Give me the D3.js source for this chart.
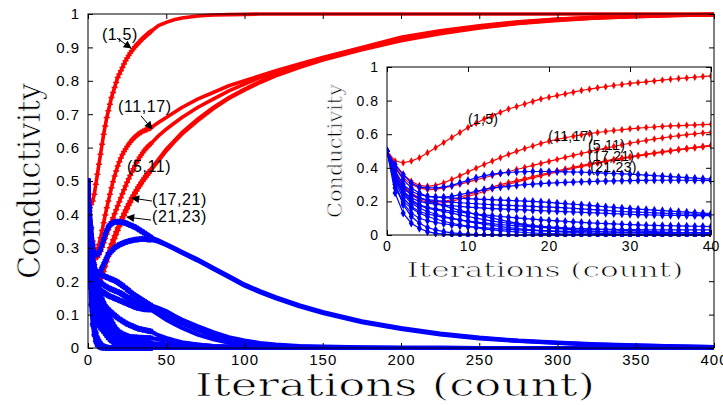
<!DOCTYPE html>
<html>
<head>
<meta charset="utf-8">
<title>Conductivity</title>
<script src="https://cdn.jsdelivr.net/npm/d3@7"></script>
<style>
body { margin: 0; background: #fff; }
.tick text { font-family: "Liberation Sans", Arial, sans-serif; fill: #000; }
.tick line { stroke: #000; }
.lbl { font-family: "Liberation Sans", Arial, sans-serif; fill: #000; }
.title { font-family: "DejaVu Serif", "Liberation Serif", serif; fill: #000; stroke: #fff; stroke-width: 0.7px; }
</style>
</head>
<body>
<svg id="chart" width="723" height="405"></svg>
<script>
// iterations where values were read (every step up to 40, then sparser)
var iters = [0,1,2,3,4,5,6,7,8,9,10,11,12,13,14,15,16,17,18,19,20,21,22,23,24,25,26,27,28,29,30,31,32,33,34,35,36,37,38,39,40,
  45,50,55,60,70,80,90,100,110,120,135,150,175,200,225,250,275,300,325,350,375,400];

// red: edges on the chosen path
var r15 = [0.5,0.44,0.43,0.44,0.46,0.49,0.52,0.55,0.58,0.61,0.64,0.665,0.69,0.71,0.73,0.75,0.765,0.78,0.795,0.81,0.82,0.83,0.84,0.85,0.86,0.868,0.876,0.883,0.89,0.896,0.902,0.907,0.912,0.917,0.922,0.927,0.931,0.935,0.939,0.943,0.947,
  0.965,0.975,0.983,0.988,0.994,0.997,0.998,0.999,1,1,1,1,1,1,1,1,1,1,1,1,1,1];
var r1117 = [0.5,0.42,0.36,0.32,0.295,0.29,0.295,0.31,0.33,0.352,0.375,0.398,0.42,0.44,0.46,0.48,0.498,0.515,0.53,0.545,0.558,0.569,0.579,0.588,0.596,0.603,0.61,0.616,0.622,0.627,0.632,0.636,0.64,0.643,0.646,0.649,0.651,0.653,0.655,0.657,0.659,
  0.675,0.69,0.705,0.72,0.745,0.765,0.785,0.8,0.815,0.83,0.85,0.87,0.9,0.93,0.95,0.965,0.977,0.985,0.99,0.994,0.997,0.998];
var r511 = [0.5,0.41,0.34,0.3,0.28,0.27,0.272,0.28,0.29,0.302,0.315,0.328,0.341,0.354,0.366,0.378,0.39,0.402,0.414,0.426,0.438,0.45,0.462,0.474,0.485,0.496,0.507,0.517,0.527,0.537,0.546,0.555,0.563,0.571,0.578,0.585,0.591,0.597,0.602,0.607,0.611,
  0.635,0.655,0.673,0.69,0.72,0.745,0.77,0.79,0.81,0.826,0.848,0.868,0.898,0.925,0.945,0.962,0.975,0.984,0.99,0.994,0.997,0.998];
var r1721 = [0.5,0.38,0.3,0.25,0.22,0.205,0.2,0.2,0.21,0.225,0.24,0.255,0.27,0.285,0.3,0.312,0.324,0.336,0.348,0.36,0.371,0.382,0.393,0.403,0.413,0.423,0.432,0.441,0.45,0.458,0.466,0.474,0.482,0.489,0.496,0.503,0.51,0.516,0.522,0.528,0.534,
  0.565,0.595,0.62,0.645,0.685,0.72,0.75,0.775,0.798,0.818,0.843,0.865,0.895,0.922,0.943,0.96,0.973,0.982,0.988,0.993,0.996,0.998];
var r2123 = [0.5,0.37,0.29,0.24,0.21,0.195,0.19,0.192,0.2,0.214,0.229,0.244,0.259,0.274,0.289,0.302,0.315,0.328,0.34,0.352,0.364,0.375,0.386,0.397,0.407,0.417,0.427,0.436,0.445,0.454,0.462,0.47,0.478,0.485,0.492,0.499,0.506,0.512,0.518,0.524,0.53,
  0.56,0.59,0.616,0.64,0.68,0.716,0.747,0.772,0.795,0.815,0.84,0.862,0.893,0.92,0.941,0.958,0.972,0.981,0.988,0.992,0.996,0.998];

// blue: the other edges
var b01 = [0.5,0.42,0.36,0.31,0.285,0.28,0.28,0.285,0.295,0.31,0.325,0.34,0.352,0.362,0.368,0.372,0.375,0.377,0.378,0.378,0.378,0.377,0.376,0.375,0.374,0.372,0.37,0.368,0.366,0.364,0.362,0.359,0.356,0.353,0.35,0.347,0.344,0.341,0.338,0.335,0.332,
  0.322,0.311,0.3,0.288,0.265,0.24,0.215,0.19,0.17,0.152,0.128,0.108,0.08,0.06,0.043,0.031,0.022,0.016,0.011,0.008,0.005,0.003];
var b02 = [0.5,0.4,0.33,0.28,0.25,0.23,0.225,0.225,0.23,0.24,0.25,0.26,0.27,0.28,0.285,0.29,0.295,0.3,0.303,0.306,0.309,0.311,0.313,0.315,0.317,0.318,0.32,0.321,0.322,0.323,0.324,0.325,0.325,0.326,0.326,0.326,0.326,0.326,0.325,0.325,0.324,
  0.318,0.308,0.297,0.285,0.262,0.237,0.212,0.187,0.167,0.149,0.125,0.105,0.077,0.057,0.041,0.029,0.021,0.015,0.01,0.007,0.005,0.003];
var b03 = [0.5,0.38,0.3,0.26,0.24,0.23,0.225,0.222,0.22,0.218,0.216,0.214,0.212,0.21,0.208,0.206,0.204,0.202,0.2,0.197,0.194,0.19,0.187,0.183,0.18,0.176,0.172,0.168,0.164,0.16,0.157,0.154,0.151,0.148,0.145,0.142,0.139,0.136,0.133,0.13,0.128,
  0.12,0.11,0.097,0.085,0.065,0.047,0.032,0.022,0.015,0.01,0.006,0.004,0.002,0.001,0.001,0,0,0,0,0,0,0];
var b04 = [0.5,0.36,0.28,0.24,0.22,0.21,0.205,0.2,0.196,0.192,0.189,0.186,0.183,0.18,0.178,0.176,0.174,0.172,0.17,0.168,0.166,0.164,0.161,0.158,0.155,0.152,0.149,0.146,0.143,0.14,0.138,0.136,0.134,0.132,0.13,0.128,0.126,0.125,0.124,0.123,0.122,
  0.11,0.098,0.085,0.073,0.053,0.037,0.025,0.017,0.011,0.007,0.004,0.002,0.001,0,0,0,0,0,0,0,0,0];
var b05 = [0.5,0.35,0.26,0.22,0.2,0.19,0.183,0.178,0.174,0.17,0.166,0.163,0.16,0.157,0.155,0.153,0.151,0.149,0.147,0.145,0.143,0.141,0.139,0.137,0.135,0.133,0.131,0.129,0.127,0.125,0.123,0.121,0.12,0.119,0.118,0.117,0.116,0.116,0.115,0.115,0.115,
  0.1,0.085,0.072,0.06,0.04,0.026,0.016,0.01,0.006,0.004,0.002,0.001,0,0,0,0,0,0,0,0,0,0];
var b06 = [0.5,0.35,0.26,0.21,0.18,0.165,0.155,0.148,0.142,0.136,0.13,0.125,0.12,0.115,0.11,0.106,0.102,0.098,0.094,0.09,0.087,0.084,0.081,0.078,0.075,0.072,0.07,0.068,0.066,0.064,0.062,0.06,0.058,0.057,0.056,0.055,0.054,0.053,0.052,0.051,0.05,
  0.038,0.03,0.023,0.017,0.01,0.006,0.004,0.002,0.001,0,0,0,0,0,0,0,0,0,0,0,0,0];
var b07 = [0.5,0.32,0.22,0.17,0.14,0.125,0.115,0.105,0.097,0.09,0.083,0.077,0.072,0.067,0.062,0.058,0.054,0.051,0.048,0.045,0.043,0.041,0.039,0.037,0.036,0.035,0.034,0.033,0.033,0.032,0.032,0.032,0.031,0.031,0.031,0.031,0.03,0.03,0.03,0.03,0.03,
  0.026,0.022,0.018,0.015,0.01,0.006,0.004,0.002,0.001,0,0,0,0,0,0,0,0,0,0,0,0,0];
var b08 = [0.5,0.3,0.19,0.13,0.1,0.085,0.075,0.067,0.06,0.055,0.05,0.046,0.042,0.039,0.036,0.033,0.031,0.029,0.027,0.025,0.024,0.023,0.022,0.021,0.02,0.019,0.019,0.018,0.018,0.017,0.017,0.016,0.016,0.016,0.015,0.015,0.015,0.015,0.015,0.015,0.015,
  0.013,0.011,0.009,0.007,0.005,0.003,0.002,0.001,0,0,0,0,0,0,0,0,0,0,0,0,0,0];
var b09 = [0.5,0.3,0.18,0.11,0.07,0.045,0.03,0.02,0.013,0.008,0.005,0.003,0.002,0.001,0,0,0,0,0,0,0,0,0,0,0,0,0,0,0,0,0,0,0,0,0,0,0,0,0,0,0,
  0,0,0,0,0,0,0,0,0,0,0,0,0,0,0,0,0,0,0,0,0,0];
var b10 = [0.5,0.25,0.13,0.07,0.04,0.02,0.01,0.005,0.002,0.001,0,0,0,0,0,0,0,0,0,0,0,0,0,0,0,0,0,0,0,0,0,0,0,0,0,0,0,0,0,0,0,
  0,0,0,0,0,0,0,0,0,0,0,0,0,0,0,0,0,0,0,0,0,0];
var b11 = [0.5,0.28,0.2,0.16,0.13,0.11,0.095,0.082,0.07,0.06,0.052,0.044,0.037,0.031,0.026,0.022,0.018,0.015,0.012,0.01,0.008,0.007,0.006,0.005,0.004,0.003,0.003,0.002,0.002,0.001,0.001,0,0,0,0,0,0,0,0,0,0,
  0,0,0,0,0,0,0,0,0,0,0,0,0,0,0,0,0,0,0,0,0,0];
var b12 = [0.5,0.33,0.24,0.19,0.16,0.14,0.125,0.11,0.1,0.09,0.08,0.072,0.064,0.057,0.05,0.044,0.039,0.034,0.03,0.026,0.023,0.02,0.017,0.015,0.013,0.011,0.009,0.008,0.007,0.006,0.005,0.004,0.004,0.003,0.003,0.002,0.002,0.002,0.001,0.001,0.001,
  0.001,0,0,0,0,0,0,0,0,0,0,0,0,0,0,0,0,0,0,0,0,0];
var b13 = [0.5,0.36,0.28,0.24,0.22,0.205,0.19,0.175,0.16,0.147,0.135,0.123,0.112,0.1,0.09,0.08,0.071,0.063,0.056,0.05,0.044,0.039,0.035,0.031,0.027,0.024,0.021,0.019,0.017,0.015,0.013,0.012,0.011,0.01,0.009,0.008,0.007,0.006,0.006,0.005,0.005,
  0.004,0.003,0.002,0.001,0,0,0,0,0,0,0,0,0,0,0,0,0,0,0,0,0,0];
var b14 = [0.5,0.34,0.25,0.2,0.175,0.16,0.15,0.14,0.13,0.12,0.11,0.1,0.091,0.083,0.076,0.07,0.064,0.059,0.055,0.051,0.048,0.045,0.042,0.04,0.038,0.036,0.034,0.032,0.03,0.028,0.026,0.024,0.022,0.02,0.018,0.016,0.014,0.013,0.012,0.011,0.01,
  0.007,0.005,0.003,0.002,0.001,0,0,0,0,0,0,0,0,0,0,0,0,0,0,0,0,0];

var redSeries = [r15, r1117, r511, r1721, r2123];
var blueSeries = [b01, b02, b03, b04, b05, b06, b07, b08, b09, b10, b11, b12, b13, b14];

// ticks
var mainXTicks = [0,50,100,150,200,250,300,350,400];
var mainYTicks = [0,0.1,0.2,0.3,0.4,0.5,0.6,0.7,0.8,0.9,1];
var insetXTicks = [0,10,20,30,40];
var insetYTicks = [0,0.2,0.4,0.6,0.8,1];

// labels: [text, iteration, value]
var mainLabels = [["(1,5)",8.9,0.922],["(11,17)",19.2,0.707],["(5,11)",24.9,0.527],["(17,21)",40.9,0.428],["(21,23)",40.9,0.377]];
// arrows: [from iter, from value, to iter, to value]
var mainArrows = [[18.5,0.928,27.5,0.898],[33.9,0.695,40.9,0.656],[40.9,0.44,28.1,0.449],[40.3,0.383,24.9,0.392]];
var insetLabels = [["(1,5)",10,0.66],["(11,17)",19.9,0.56],["(5,11)",24.8,0.506],["(17,21)",24.8,0.44],["(21,23)",25.1,0.375]];

var RED = "#ff0000", BLUE = "#0000ff";
var svg = d3.select("#chart");
var fmt = function(d) { return String(+d.toFixed(2)); };

function pairs(vals, maxT) {
  var out = [];
  for (var i = 0; i < iters.length; i++) {
    if (iters[i] <= maxT && vals[i] !== undefined) out.push([iters[i], vals[i]]);
  }
  return out;
}

var defs = svg.append("defs");
defs.append("clipPath").attr("id", "clipMain").append("rect")
  .attr("x", 88).attr("y", 9).attr("width", 626).attr("height", 343);
defs.append("clipPath").attr("id", "clipInset").append("rect")
  .attr("x", 387).attr("y", 64).attr("width", 324).attr("height", 173);
defs.append("marker").attr("id", "head")
  .attr("viewBox", "0 0 10 10").attr("refX", 9).attr("refY", 5)
  .attr("markerWidth", 11).attr("markerHeight", 8)
  .attr("markerUnits", "userSpaceOnUse").attr("orient", "auto")
  .append("path").attr("d", "M0,0L10,5L0,10z").attr("fill", "#000");

// ---------- MAIN ----------
var x = d3.scaleLinear().domain([0, 400]).range([88, 714]);
var y = d3.scaleLinear().domain([0, 1]).range([348, 14]);
var line = d3.line().x(function(d) { return x(d[0]); }).y(function(d) { return y(d[1]); });

var gm = svg.append("g").attr("clip-path", "url(#clipMain)");
function drawMain(list, color, star) {
  list.forEach(function(vals) {
    var pts = pairs(vals, 400);
    gm.append("path").datum(pts).attr("d", line)
      .attr("fill", "none").attr("stroke", color).attr("stroke-width", star ? 4.2 : 3.6);
    gm.append("g").selectAll("path").data(pts.filter(function(d) { return d[0] <= 40; }))
      .join("path")
      .attr("transform", function(d) { return "translate(" + x(d[0]) + "," + y(d[1]) + ")"; })
      .attr("d", star ? "M-3,0H3M0,-3V3M-2.2,-2.2L2.2,2.2M-2.2,2.2L2.2,-2.2" : "M-3,0H3M0,-3V3")
      .attr("stroke", color).attr("stroke-width", 1.5).attr("fill", "none");
  });
}
// red first: the blue fan hides the early red dip, as in the original
drawMain(redSeries, RED, false);
drawMain(blueSeries, BLUE, true);

function box(g, xs, ys, xt, yt, fs, pad) {
  g.append("rect").attr("x", xs.range()[0]).attr("y", ys.range()[1])
    .attr("width", xs.range()[1] - xs.range()[0]).attr("height", ys.range()[0] - ys.range()[1])
    .attr("fill", "none").attr("stroke", "#000").attr("stroke-width", 1);
  var l = g.append("g").attr("transform", "translate(" + xs.range()[0] + ",0)")
    .call(d3.axisLeft(ys).tickValues(yt).tickFormat(fmt).tickSizeInner(-5).tickSizeOuter(0).tickPadding(pad[0]));
  var b = g.append("g").attr("transform", "translate(0," + ys.range()[0] + ")")
    .call(d3.axisBottom(xs).tickValues(xt).tickFormat(fmt).tickSizeInner(-5).tickSizeOuter(0).tickPadding(pad[1]));
  var r = g.append("g").attr("transform", "translate(" + xs.range()[1] + ",0)")
    .call(d3.axisRight(ys).tickValues(yt).tickFormat("").tickSizeInner(-5).tickSizeOuter(0));
  var t = g.append("g").attr("transform", "translate(0," + ys.range()[1] + ")")
    .call(d3.axisTop(xs).tickValues(xt).tickFormat("").tickSizeInner(-5).tickSizeOuter(0));
  [l, b, r, t].forEach(function(a) { a.select(".domain").remove(); });
  g.selectAll(".tick text").attr("font-size", fs).attr("letter-spacing", "1px");
}
box(svg.append("g"), x, y, mainXTicks, mainYTicks, 15, [8, 6]);

svg.append("text").attr("class", "title")
  .attr("x", 395).attr("y", 396).attr("text-anchor", "middle")
  .attr("font-size", 31).attr("textLength", 400).attr("lengthAdjust", "spacingAndGlyphs")
  .text("Iterations (count)");
svg.append("text").attr("class", "title")
  .attr("transform", "translate(40,181) rotate(-90)").attr("text-anchor", "middle")
  .attr("font-size", 31).attr("textLength", 196).attr("lengthAdjust", "spacingAndGlyphs")
  .text("Conductivity");

mainArrows.forEach(function(a) {
  svg.append("line").attr("x1", x(a[0])).attr("y1", y(a[1])).attr("x2", x(a[2])).attr("y2", y(a[3]))
    .attr("stroke", "#000").attr("stroke-width", 1).attr("marker-end", "url(#head)");
});
mainLabels.forEach(function(l) {
  svg.append("text").attr("class", "lbl").attr("x", x(l[1])).attr("y", y(l[2]))
    .attr("font-size", 16).attr("letter-spacing", "0.6px").text(l[0]);
});

// ---------- INSET ----------
var xi = d3.scaleLinear().domain([0, 40]).range([387, 711]);
var yi = d3.scaleLinear().domain([0, 1]).range([235, 67]);
var linei = d3.line().x(function(d) { return xi(d[0]); }).y(function(d) { return yi(d[1]); });

svg.append("rect").attr("x", 387).attr("y", 67).attr("width", 324).attr("height", 168).attr("fill", "#fff");
var gi = svg.append("g").attr("clip-path", "url(#clipInset)");
function drawInset(list, color, size) {
  var sym = d3.symbol().type(d3.symbolDiamond).size(size);
  list.forEach(function(vals) {
    var pts = pairs(vals, 40);
    gi.append("path").datum(pts).attr("d", linei)
      .attr("fill", "none").attr("stroke", color).attr("stroke-width", 1.2);
    gi.append("g").selectAll("path").data(pts).join("path")
      .attr("transform", function(d) { return "translate(" + xi(d[0]) + "," + yi(d[1]) + ")"; })
      .attr("d", sym).attr("fill", color);
  });
}
drawInset(redSeries, RED, 16);
drawInset(blueSeries, BLUE, 22);

box(svg.append("g"), xi, yi, insetXTicks, insetYTicks, 14, [8, 6]);

svg.append("text").attr("class", "title")
  .attr("x", 545).attr("y", 277).attr("text-anchor", "middle")
  .attr("font-size", 21).attr("textLength", 277).attr("lengthAdjust", "spacingAndGlyphs")
  .text("Iterations (count)");
svg.append("text").attr("class", "title")
  .attr("transform", "translate(342,151) rotate(-90)").attr("text-anchor", "middle")
  .attr("font-size", 21).attr("textLength", 134).attr("lengthAdjust", "spacingAndGlyphs")
  .text("Conductivity");

insetLabels.forEach(function(l) {
  svg.append("text").attr("class", "lbl").attr("x", xi(l[1])).attr("y", yi(l[2]))
    .attr("font-size", 14).attr("letter-spacing", "0.3px").text(l[0]);
});
</script>
</body>
</html>
